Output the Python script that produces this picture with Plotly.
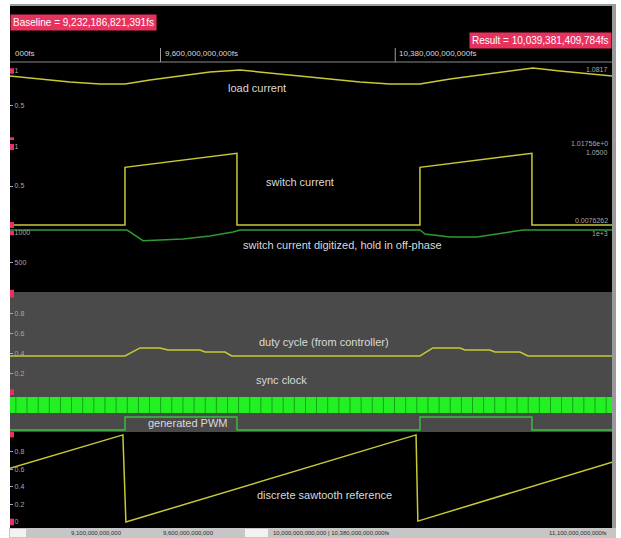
import plotly.graph_objects as go

W, H = 621, 538
X0, X1 = 10, 612          # left / right edge of the waveform area (px)

# ---------------- signal data (time in microseconds) ----------------
t_start, t_end = 9100, 11100

load_t = [9100, 9200, 9299, 9399, 9482, 9565, 9665, 9764, 9864, 9964, 10063,
          10163, 10263, 10362, 10462, 10562, 10661, 10761, 10837, 10927, 11027, 11100]
load_i = [0.928, 0.884, 0.841, 0.812, 0.812, 0.870, 0.928, 0.986, 1.014, 0.971, 0.928,
          0.884, 0.841, 0.812, 0.812, 0.884, 0.942, 1.000, 1.043, 1.000, 0.957, 0.928]

switch_t = [9100, 9482, 9482, 9854, 9854, 10462, 10462, 10834, 10834, 11100]
switch_i = [0, 0, 0.74, 0.92, 0, 0, 0.74, 0.92, 0, 0]

digit_t = [9100, 9489, 9542, 9675, 9764, 9841, 9864, 10462, 10479, 10562, 10651,
           10718, 10804, 11100]
digit_v = [1051, 1051, 870, 898, 949, 1017, 1051, 1051, 983, 932, 932,
           983, 1051, 1051]

duty_t = [9100, 9482, 9532, 9598, 9625, 9731, 9748, 9814, 9837, 10462, 10505,
          10595, 10611, 10694, 10711, 10794, 10821, 11100]
duty_v = [0.374, 0.374, 0.455, 0.455, 0.434, 0.434, 0.414, 0.414, 0.374, 0.374, 0.455,
          0.455, 0.434, 0.434, 0.414, 0.414, 0.374, 0.374]

# falling edges of the sync clock (short low pulses)
clock_low_t = [9118, 9155, 9192, 9229, 9266, 9303, 9340, 9377, 9414, 9451, 9488,
               9525, 9562, 9599, 9636, 9673, 9710, 9747, 9784, 9821, 9858, 9895,
               9932, 9969, 10006, 10043, 10080, 10117, 10154, 10191, 10228, 10265,
               10302, 10339, 10376, 10413, 10450, 10487, 10524, 10561, 10598, 10635,
               10672, 10709, 10746, 10783, 10820, 10857, 10894, 10931, 10968, 11005,
               11042, 11079]
clock_low_width = 3

pwm_t = [9100, 9482, 9482, 9854, 9854, 10462, 10462, 10834, 10834, 11100]
pwm_v = [0, 0, 1, 1, 0, 0, 1, 1, 0, 0]

saw_t = [9100, 9475, 9485, 10449, 10455, 11100]
saw_v = [0.61, 0.99, 0.0, 0.99, 0.01, 0.68]

load_ticks = [0, 0.5, 1]
switch_ticks = [0, 0.5, 1]
digit_ticks = [0, 500, 1000]
duty_ticks = [0, 0.2, 0.4, 0.6, 0.8, 1]
saw_ticks = [0, 0.2, 0.4, 0.6, 0.8, 1]

time_tick_t = [9600, 10380]
time_tick_text = ["9,600,000,000,000fs", "10,380,000,000,000fs"]

baseline_text = "Baseline = 9,232,186,821,391fs"
result_text = "Result = 10,039,381,409,784fs"


def fx(px):
    return px / W


def fy(py):
    return 1 - py / H


YELLOW = "#c9c836"
DKGREEN = "#2f9a2f"
PWMGREEN = "#38c438"
CLOCK = "#22f022"
PANEL_GRAY = "#4a4a4a"
LABEL = "#dadada"
TICK = "#a8a8a8"
RED = "#e8325e"
FONT = "Liberation Sans"

# panel vertical extents in px and axis ranges
panels = {
    "y":  dict(px=(62, 140), rng=[0, 1.13], ticks=load_ticks),
    "y2": dict(px=(140, 228), rng=[-0.038, 1.09], ticks=switch_ticks),
    "y3": dict(px=(228, 292), rng=[0, 1085], ticks=digit_ticks),
    "y4": dict(px=(292, 395), rng=[-0.02, 1.02], ticks=duty_ticks),
    "y5": dict(px=(397, 413), rng=[0, 1], ticks=[]),
    "y6": dict(px=(413, 432), rng=[-0.15, 1.31], ticks=[]),
    "y7": dict(px=(432, 527), rng=[-0.057, 1.023], ticks=saw_ticks),
}

fig = go.Figure()


def line(x, y, yax, color, width=1.5, shape="linear"):
    fig.add_trace(go.Scatter(x=x, y=y, yaxis=yax, mode="lines",
                             line=dict(color=color, width=width, shape=shape),
                             hoverinfo="skip", showlegend=False))


line(load_t, load_i, "y", YELLOW)
line(switch_t, switch_i, "y2", YELLOW)
line(digit_t, digit_v, "y3", DKGREEN)
line(duty_t, duty_v, "y4", YELLOW)

# sync clock as filled step trace
cx, cy = [t_start], [1]
for t in clock_low_t:
    cx += [t, t + clock_low_width]
    cy += [0, 1]
cx.append(t_end)
cy.append(1)
fig.add_trace(go.Scatter(x=cx, y=cy, yaxis="y5", mode="lines", fill="tozeroy",
                         fillcolor=CLOCK, line=dict(color=CLOCK, width=0, shape="hv"),
                         hoverinfo="skip", showlegend=False))

line(pwm_t, pwm_v, "y6", PWMGREEN, width=1.4)
line(saw_t, saw_v, "y7", YELLOW)

layout = dict(
    width=W, height=H, margin=dict(l=0, r=0, t=0, b=0),
    paper_bgcolor="white", plot_bgcolor="rgba(0,0,0,0)",
    showlegend=False,
    xaxis=dict(domain=[fx(X0), fx(X1)], range=[t_start, t_end], visible=False,
               fixedrange=True),
)

for key, p in panels.items():
    top, bot = p["px"]
    ax = dict(domain=[fy(bot), fy(top)], range=p["rng"], anchor="x",
              showgrid=False, zeroline=False, showline=False, fixedrange=True,
              ticks="inside" if p["ticks"] else "", ticklen=3, tickcolor=TICK,
              ticklabelposition="inside",
              tickvals=p["ticks"], ticktext=[f"{v:g}" for v in p["ticks"]],
              tickfont=dict(family=FONT, size=7, color=TICK),
              showticklabels=bool(p["ticks"]))
    name = "yaxis" if key == "y" else "yaxis" + key[1:]
    layout[name] = ax

fig.update_layout(**layout)

shapes = []


def rect(x0, y0, x1, y1, color):
    shapes.append(dict(type="rect", xref="paper", yref="paper",
                       x0=fx(x0), x1=fx(x1), y0=fy(y1), y1=fy(y0),
                       fillcolor=color, layer="below", line=dict(width=0)))


# frame and panel backgrounds
rect(0, 0, W, H, "white")
rect(X0, 4, X1 + 3, 6, "#9c9c9c")
rect(X0, 6, X1, 292, "black")
rect(X0, 292, X1, 397, PANEL_GRAY)
rect(X0, 397, X1, 413, "#149c14")
rect(X0, 413, X1, 432, PANEL_GRAY)
rect(X0, 432, X1, 528, "black")
rect(X1, 4, X1 + 4, 528, "#9a9a9a")
rect(X0 - 1, 528, X1 + 4, 538, "#c6c6c6")
rect(X0, 529, X0 + 16, 537, "#f2f2f2")
rect(245, 529, 268, 537, "#f2f2f2")

# time-axis baseline
shapes.append(dict(type="line", xref="paper", yref="paper", x0=fx(X0), x1=fx(X1),
                   y0=fy(62), y1=fy(62), line=dict(color="#8a8a8a", width=1)))
for t in time_tick_t:
    shapes.append(dict(type="line", xref="x", yref="paper", x0=t, x1=t,
                       y0=fy(62), y1=fy(48), line=dict(color="#9a9a9a", width=1)))

# red range markers at the top / bottom of each scaled panel
for key in ["y", "y2", "y3", "y4", "y7"]:
    tk = panels[key]["ticks"]
    span = panels[key]["rng"][1] - panels[key]["rng"][0]
    for v in (tk[0], tk[-1]):
        shapes.append(dict(type="rect", xref="paper", yref=key,
                           x0=fx(X0), x1=fx(X0 + 4),
                           y0=v - span * 0.035, y1=v + span * 0.035,
                           fillcolor=RED, line=dict(width=0)))

fig.update_layout(shapes=shapes)

ann = []


def text(px, py, s, size=11, color=LABEL, anchor="center", bg=None):
    ann.append(dict(xref="paper", yref="paper", x=fx(px), y=fy(py), text=s,
                    showarrow=False, xanchor=anchor, yanchor="middle",
                    font=dict(family=FONT, size=size, color=color),
                    bgcolor=bg, borderpad=2))


# cursor read-outs
text(10, 22, baseline_text, size=10, color="white", anchor="left", bg=RED)
text(612, 40, result_text, size=10, color="white", anchor="right", bg=RED)

# time axis labels
text(12, 54, "000fs", size=8, color="#d8d8d8", anchor="left")
for t, s in zip(time_tick_t, time_tick_text):
    ann.append(dict(xref="x", yref="paper", x=t, y=fy(54), text=s, showarrow=False,
                    xanchor="left", xshift=2, yanchor="middle",
                    font=dict(family=FONT, size=8, color="#d8d8d8")))

# signal names
text(257, 88, "load current")
text(300, 182, "switch current")
text(342, 245, "switch current digitized, hold in off-phase")
text(324, 342, "duty cycle (from controller)")
text(281, 380, "sync clock")
text(187, 423, "generated PWM")
text(324, 495, "discrete sawtooth reference")

# right-hand range read-outs
text(611, 69, "1.0817", size=7, color=TICK, anchor="right")
text(611, 143, "1.01756e+0", size=7, color=TICK, anchor="right")
text(611, 152, "1.0500", size=7, color=TICK, anchor="right")
text(611, 220, "0.0076262", size=7, color=TICK, anchor="right")
text(611, 233, "1e+3", size=7, color=TICK, anchor="right")

# scrollbar read-outs
text(68, 533, "9,100,000,000,000", size=6, color="#303030", anchor="left")
text(160, 533, "9,600,000,000,000", size=6, color="#303030", anchor="left")
text(270, 533, "10,000,000,000,000 | 10,380,000,000,000fs", size=6, color="#303030", anchor="left")
text(610, 533, "11,100,000,000,000fs", size=6, color="#303030", anchor="right")

fig.update_layout(annotations=ann)

fig.write_html("out.html")
